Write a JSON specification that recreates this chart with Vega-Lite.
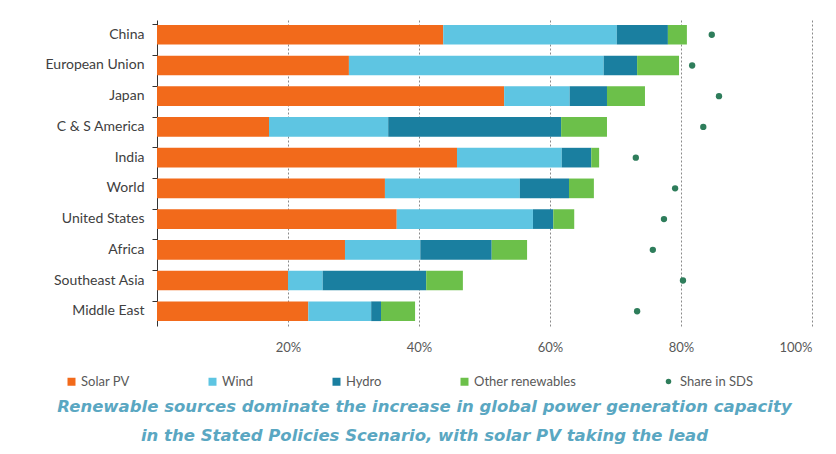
{
  "$schema": "https://vega.github.io/schema/vega-lite/v6.json",
  "description": "Share of renewables in power capacity additions by region, Stated Policies Scenario.",
  "width": 655, "height": 306,
  "autosize": "none",
  "padding": {"left": 157, "top": 20, "right": 24, "bottom": 128},
  "background": "white",
  "config": {
    "font": "Lato",
    "view": {"stroke": null},
    "legend": {"labelFontSize": 13, "labelColor": "#595959", "labelFont": "Lato"}
  },
  "datasets": {
    "capacity": [
      {"region": "China", "source": "Solar PV", "share": 43.7},
      {"region": "China", "source": "Wind", "share": 26.5},
      {"region": "China", "source": "Hydro", "share": 7.8},
      {"region": "China", "source": "Other renewables", "share": 2.9},
      {"region": "European Union", "source": "Solar PV", "share": 29.3},
      {"region": "European Union", "source": "Wind", "share": 38.9},
      {"region": "European Union", "source": "Hydro", "share": 5.1},
      {"region": "European Union", "source": "Other renewables", "share": 6.4},
      {"region": "Japan", "source": "Solar PV", "share": 53.0},
      {"region": "Japan", "source": "Wind", "share": 10.0},
      {"region": "Japan", "source": "Hydro", "share": 5.7},
      {"region": "Japan", "source": "Other renewables", "share": 5.8},
      {"region": "C & S America", "source": "Solar PV", "share": 17.1},
      {"region": "C & S America", "source": "Wind", "share": 18.2},
      {"region": "C & S America", "source": "Hydro", "share": 26.4},
      {"region": "C & S America", "source": "Other renewables", "share": 7.0},
      {"region": "India", "source": "Solar PV", "share": 45.8},
      {"region": "India", "source": "Wind", "share": 16.0},
      {"region": "India", "source": "Hydro", "share": 4.5},
      {"region": "India", "source": "Other renewables", "share": 1.2},
      {"region": "World", "source": "Solar PV", "share": 34.8},
      {"region": "World", "source": "Wind", "share": 20.6},
      {"region": "World", "source": "Hydro", "share": 7.5},
      {"region": "World", "source": "Other renewables", "share": 3.8},
      {"region": "United States", "source": "Solar PV", "share": 36.6},
      {"region": "United States", "source": "Wind", "share": 20.8},
      {"region": "United States", "source": "Hydro", "share": 3.1},
      {"region": "United States", "source": "Other renewables", "share": 3.2},
      {"region": "Africa", "source": "Solar PV", "share": 28.7},
      {"region": "Africa", "source": "Wind", "share": 11.5},
      {"region": "Africa", "source": "Hydro", "share": 10.9},
      {"region": "Africa", "source": "Other renewables", "share": 5.4},
      {"region": "Southeast Asia", "source": "Solar PV", "share": 20.0},
      {"region": "Southeast Asia", "source": "Wind", "share": 5.3},
      {"region": "Southeast Asia", "source": "Hydro", "share": 15.8},
      {"region": "Southeast Asia", "source": "Other renewables", "share": 5.6},
      {"region": "Middle East", "source": "Solar PV", "share": 23.1},
      {"region": "Middle East", "source": "Wind", "share": 9.6},
      {"region": "Middle East", "source": "Hydro", "share": 1.5},
      {"region": "Middle East", "source": "Other renewables", "share": 5.2}
    ],
    "sds": [
      {"region": "China", "sds": 84.7},
      {"region": "European Union", "sds": 81.7},
      {"region": "Japan", "sds": 85.8},
      {"region": "C & S America", "sds": 83.4},
      {"region": "India", "sds": 73.1},
      {"region": "World", "sds": 79.1},
      {"region": "United States", "sds": 77.4},
      {"region": "Africa", "sds": 75.7},
      {"region": "Southeast Asia", "sds": 80.3},
      {"region": "Middle East", "sds": 73.3}
    ]
  },
  "title": {
    "text": ["Renewable sources dominate the increase in global power generation capacity", "in the Stated Policies Scenario, with solar PV taking the lead"],
    "orient": "bottom", "anchor": "middle", "dx": -60, "offset": 10,
    "color": "#5AA7C2", "fontStyle": "italic", "fontWeight": "bold",
    "fontSize": 16.5, "lineHeight": 29, "font": "DejaVu Sans"
  },
  "encoding": {
    "y": {
      "field": "region", "type": "nominal",
      "sort": ["China", "European Union", "Japan", "C & S America", "India", "World", "United States", "Africa", "Southeast Asia", "Middle East"],
      "scale": {"paddingInner": 0.36, "paddingOuter": 0.16},
      "axis": {
        "title": null, "labelFontSize": 14, "labelColor": "#404040", "labelPadding": 8,
        "domainColor": "#333333", "tickColor": "#333333", "tickSize": 5, "bandPosition": 0, "grid": false
      }
    }
  },
  "layer": [
    {
      "data": {"name": "capacity"},
      "transform": [
        {"calculate": "indexof(['Solar PV', 'Wind', 'Hydro', 'Other renewables'], datum.source)", "as": "stackOrder"}
      ],
      "mark": {"type": "bar"},
      "encoding": {
        "x": {
          "field": "share", "type": "quantitative", "aggregate": "sum", "stack": "zero",
          "scale": {"domain": [0, 100], "nice": false},
          "axis": {
            "title": null, "values": [20, 40, 60, 80, 100], "labelExpr": "datum.value + '%'",
            "domain": false, "ticks": false, "grid": true, "gridDash": [2, 2], "gridColor": "#8a8a8a",
            "labelFontSize": 13, "labelColor": "#595959", "labelPadding": 15
          }
        },
        "order": {"field": "stackOrder", "type": "quantitative", "aggregate": "min", "sort": "ascending"},
        "color": {
          "field": "source", "type": "nominal",
          "sort": ["Solar PV", "Wind", "Hydro", "Other renewables"],
          "scale": {"domain": ["Solar PV", "Wind", "Hydro", "Other renewables"], "range": ["#F26A1B", "#5EC5E2", "#1A7FA0", "#6CC04A"]},
          "legend": {
            "title": null, "orient": "none", "direction": "horizontal", "legendX": -92, "legendY": 355,
            "symbolType": "square", "symbolSize": 64, "symbolStrokeWidth": 0, "columnPadding": 76, "labelOffset": 3
          }
        }
      }
    },
    {
      "data": {"name": "sds"},
      "mark": {"type": "circle", "size": 40, "opacity": 1},
      "encoding": {
        "x": {"field": "sds", "type": "quantitative"},
        "color": {
          "datum": "Share in SDS", "type": "nominal",
          "scale": {"range": ["#2E7D5B"]},
          "legend": {
            "title": null, "orient": "none", "direction": "horizontal", "legendX": 505, "legendY": 355,
            "symbolType": "circle", "symbolSize": 30, "symbolStrokeWidth": 0, "labelOffset": 5
          }
        }
      }
    }
  ],
  "resolve": {"scale": {"color": "independent"}, "legend": {"color": "independent"}}
}
